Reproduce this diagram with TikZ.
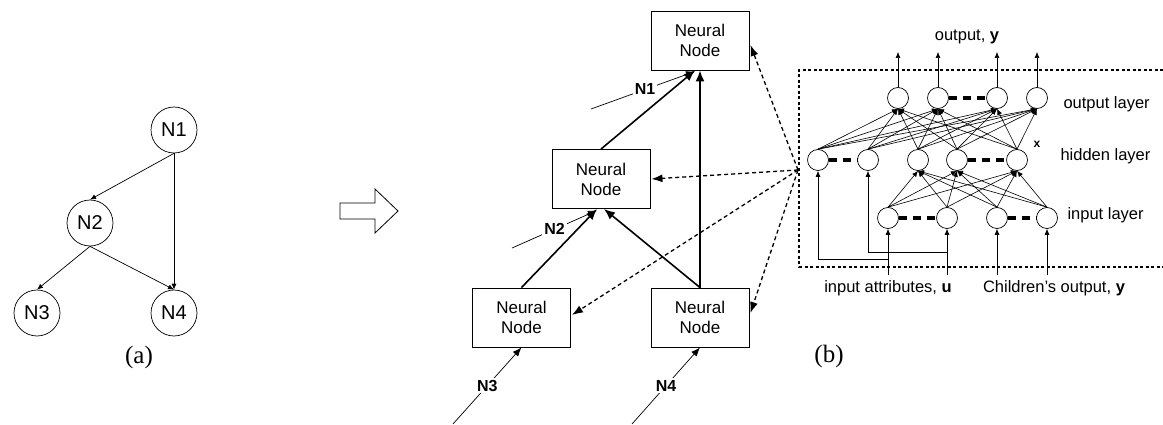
\documentclass[tikz,border=0pt]{standalone}
\usepackage{fontspec}
\setmainfont{Liberation Serif}
\setsansfont{Liberation Sans}
\usetikzlibrary{arrows.meta,calc}

\begin{document}
\begin{tikzpicture}[x=1pt,y=-1pt,
  every node/.style={font=\sffamily},
  dagnode/.style={circle,draw,minimum size=46pt,inner sep=0pt,line width=0.7pt,
    font=\fontsize{20}{22}\sffamily},
  dagedge/.style={-{Latex[length=6pt,width=5pt]},line width=0.7pt},
  nbox/.style={draw,line width=0.9pt,minimum width=98pt,minimum height=59pt,
    inner sep=0pt,align=center,font=\fontsize{17}{20}\sffamily},
  treeedge/.style={-{Latex[length=11pt,width=9pt]},line width=1.6pt},
  leafin/.style={-{Latex[length=9pt,width=7pt]},line width=0.7pt},
  leaflbl/.style={fill=white,inner sep=2pt,font=\fontsize{16}{18}\sffamily\bfseries},
  probe/.style={-{Latex[length=11pt,width=8pt]},line width=1.3pt,dash pattern=on 4pt off 3pt},
  neuron/.style={circle,draw,minimum size=21pt,inner sep=0pt,line width=0.7pt},
  wire/.style={-{Latex[length=6pt,width=5pt]},line width=0.6pt},
  skipline/.style={line width=3.5pt,dash pattern=on 8pt off 6pt},
  boxline/.style={line width=1.3pt,dash pattern=on 3pt off 2.5pt},
  lbl/.style={font=\fontsize{16.5}{20}\sffamily},
  caption/.style={font=\fontsize{25}{27}\rmfamily},
]
\fill[white] (0,0) rectangle (1163,425);
\useasboundingbox (0,0) rectangle (1163,425);

% ---------- (a) dependency graph ----------
\node[dagnode] (n1) at (174,130) {N1};
\node[dagnode] (n2) at (90,223) {N2};
\node[dagnode] (n3) at (37,313) {N3};
\node[dagnode] (n4) at (174,313) {N4};
\draw[dagedge] (n1.south) -- (n2.north);
\draw[dagedge] (n1.south) -- (n4.north);
\draw[dagedge] (n2.south) -- (n3.north);
\draw[dagedge] (n2.south) -- (n4.north);
\node[caption] (capa) at (139,357) {(a)};

% ---------- hollow arrow ----------
\draw[line width=0.8pt] (340,203) -- (375,203) -- (375,189) -- (398,211)
  -- (375,233) -- (375,219) -- (340,219) -- cycle;

% ---------- tree of neural nodes ----------
\node[nbox] (top) at (700,40.5) {Neural\\Node};
\node[nbox] (mid) at (601,179) {Neural\\Node};
\node[nbox] (bl)  at (521.5,317.5) {Neural\\Node};
\node[nbox] (br)  at (700,317.5) {Neural\\Node};

\draw[treeedge] (bl.north) -- ([xshift=-4pt]mid.south);
\draw[treeedge] (br.north) -- ([xshift=3pt]mid.south);
\draw[treeedge] (br.north) -- (top.south);
\draw[treeedge] (mid.north) -- ([xshift=-5pt]top.south);

\coordinate (s1) at (591,109);
\coordinate (s2) at (512,248);
\coordinate (s3) at (453,424);
\coordinate (s4) at (632,424);
\draw[leafin] (s1) -- ([xshift=-5pt,yshift=-1pt]top.south) node[leaflbl,pos=0.52] {N1};
\draw[leafin] (s2) -- ([xshift=-4pt,yshift=-1.5pt]mid.south) node[leaflbl,pos=0.5] {N2};
\draw[leafin] (s3) -- (bl.south) node[leaflbl,pos=0.5] {N3};
\draw[leafin] (s4) -- (br.south) node[leaflbl,pos=0.5] {N4};

% ---------- inside of a neural node ----------
\draw[boxline] (1163,70) -- (799,70) -- (799,267) -- (1163,267);
\coordinate (hub) at (798,170);
\draw[probe] (hub) -- ($(top.east)+(1,4.5)$);
\draw[probe] (hub) -- ($(mid.east)+(1,0)$);
\draw[probe] (hub) -- ($(bl.east)+(1,-2.5)$);
\draw[probe] (hub) -- ($(br.east)+(1,-4.5)$);

% output layer
\foreach \k/\xx in {1/898,2/938,3/997,4/1037}{
  \node[neuron] (o\k) at (\xx,98) {};
  \coordinate (y\k) at (\xx,52);
  \draw[wire] (o\k.north) -- (y\k);
}
% hidden layer
\foreach \k/\xx in {1/818,2/868,3/918,4/957,5/1017}{
  \node[neuron] (h\k) at (\xx,160) {};
}
% input layer
\foreach \k/\xx in {1/888,2/947,3/997,4/1047}{
  \node[neuron] (i\k) at (\xx,218) {};
  \coordinate (u\k) at (\xx,275);
  \draw[wire] (u\k) -- (i\k.south);
}

\foreach \h in {1,...,5}{
  \foreach \o in {1,...,4}{
    \draw[wire] (h\h.north) -- (o\o.south);
  }
}
\foreach \i in {1,...,4}{
  \foreach \h in {3,4,5}{
    \draw[wire] (i\i.north) -- (h\h.south);
  }
}

% direct inputs to the first hidden units
\coordinate (c1) at (888,259);
\coordinate (c2) at (947,252.7);
\draw[wire] (c1) -| (h1.south);
\draw[wire] (c2) -| (h2.south);

% elided units
\draw[skipline] (o2.east) -- (o3.west);
\draw[skipline] (h1.east) -- (h2.west);
\draw[skipline] (h4.east) -- (h5.west);
\draw[skipline] (i1.east) -- (i2.west);
\draw[skipline] (i3.east) -- (i4.west);

% labels
\node[lbl] (outlbl) at (967,37) {output, \textbf{y}};
\node[lbl,anchor=west] (ol) at (1060,104) {output layer};
\node[lbl,anchor=west] (hl) at (1057,156) {hidden layer};
\node[lbl,anchor=west] (il) at (1064,215) {input layer};
\node[font=\fontsize{12}{14}\sffamily\bfseries] (xlbl) at (1037,144) {x};
\node[lbl] (ualbl) at (888,288) {input attributes, \textbf{u}};
\node[lbl] (chlbl) at (1054,288) {Children's output, \textbf{y}};
\node[caption] (capb) at (829,356) {(b)};
\end{tikzpicture}
\end{document}
